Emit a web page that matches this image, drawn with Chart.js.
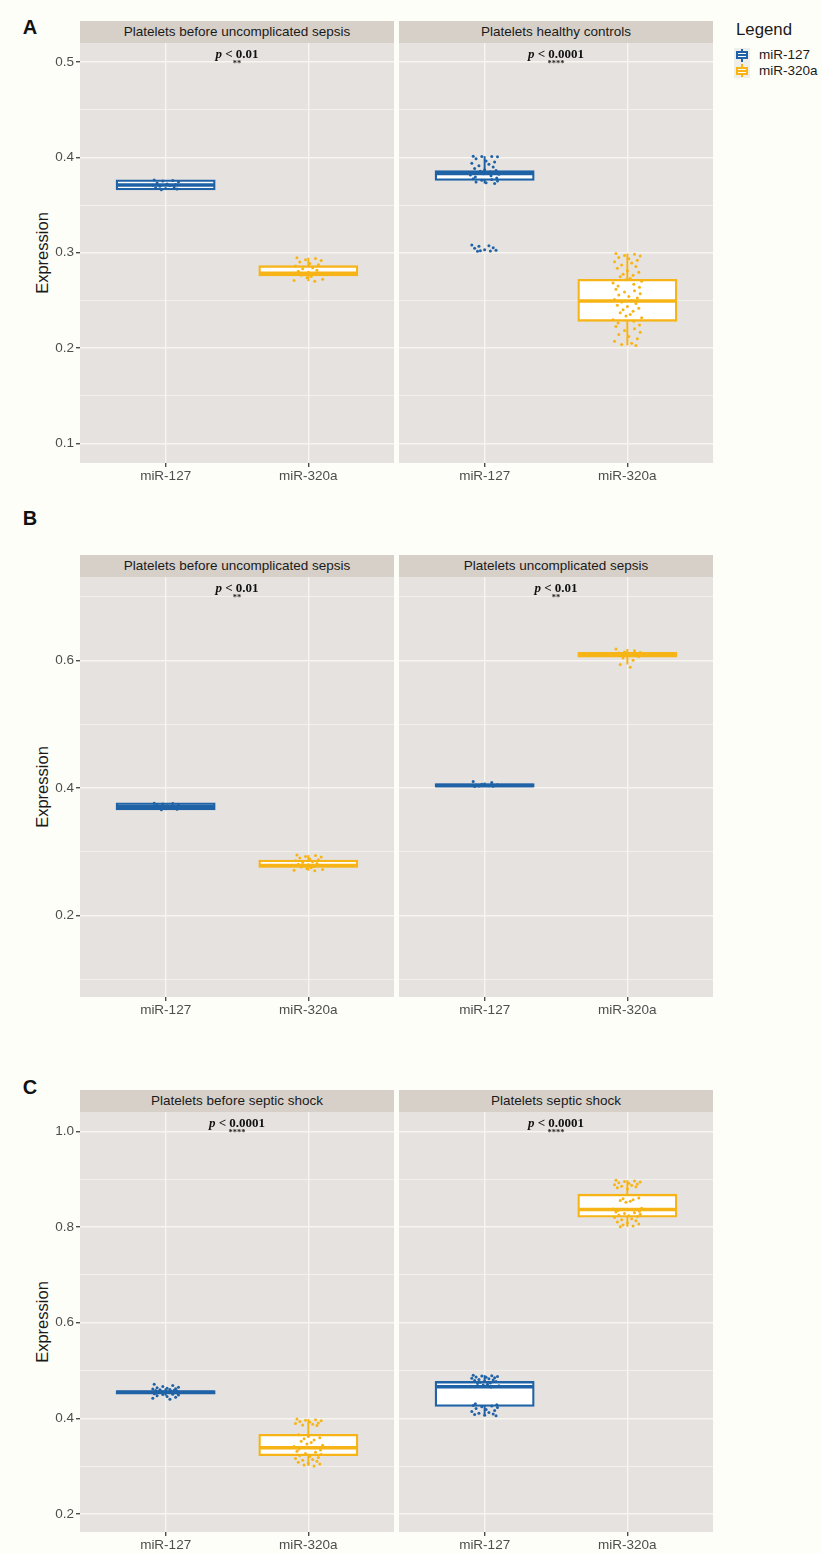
<!DOCTYPE html>
<html>
<head>
<meta charset="utf-8">
<script src="https://cdn.jsdelivr.net/npm/chart.js@4.4.0/dist/chart.umd.min.js"></script>
<style>
body { margin: 0; background: #fefef9; font-family: "Liberation Sans", Arial, sans-serif; }
#fig { position: relative; width: 822px; height: 1553px; overflow: hidden; }
.strip { position: absolute; height: 22px; width: 314px; background: #d6d0c9; color: #1a1a1a;
  font-size: 13.5px; line-height: 22px; text-align: center; white-space: nowrap; }
.pval { position: absolute; z-index: 2; font-family: "Liberation Serif", "Times New Roman", serif; font-weight: bold;
  font-size: 13px; line-height: 1; transform: translate(-50%, -50%); white-space: nowrap; color: #111; }
.stars { position: absolute; z-index: 2; font-family: "Liberation Serif", serif; font-weight: bold; font-size: 8.5px;
  line-height: 1; transform: translate(-50%, -50%); color: #222; }
.letter { position: absolute; font-weight: bold; font-size: 20px; line-height: 1; transform: translate(-50%, -50%); color: #111; }
.ylab { position: absolute; font-size: 16.5px; line-height: 1; color: #1a1a1a; white-space: nowrap;
  transform: translate(-50%, -50%) rotate(-90deg); }
.lgtitle { position: absolute; font-size: 16.8px; line-height: 1; color: #1a1a1a; transform: translateY(-50%); }
.lgtext { position: absolute; font-size: 13.5px; line-height: 1; color: #1a1a1a; transform: translateY(-50%); }
.key { position: absolute; width: 16px; height: 15px; background: #f0eeeb; }
.key div { position: absolute; }
canvas { position: absolute; z-index: 1; }
</style>
</head>
<body>
<div id="fig"></div>
<script>
// categories and colours
const categories = ['miR-127', 'miR-320a'];
const seriesColors = ['#1f62a6', '#f7b416'];

// facet strips and annotations, one row per figure part
const rowLetters = ['A', 'B', 'C'];
const facetTitles = [
  ['Platelets before uncomplicated sepsis', 'Platelets healthy controls'],
  ['Platelets before uncomplicated sepsis', 'Platelets uncomplicated sepsis'],
  ['Platelets before septic shock', 'Platelets septic shock']
];
const pLabels = [['< 0.01', '< 0.0001'], ['< 0.01', '< 0.01'], ['< 0.0001', '< 0.0001']];
const starLabels = [['**', '****'], ['**', '**'], ['****', '****']];

// y axes
const yRangeA = [0.0796, 0.5199];
const majorTicksA = [0.1, 0.2, 0.3, 0.4, 0.5];
const minorTicksA = [0.15, 0.25, 0.35, 0.45];
const yRangeB = [0.0722, 0.7310];
const majorTicksB = [0.2, 0.4, 0.6];
const minorTicksB = [0.1, 0.3, 0.5, 0.7];
const yRangeC = [0.1625, 1.0402];
const majorTicksC = [0.2, 0.4, 0.6, 0.8, 1.0];
const minorTicksC = [0.3, 0.5, 0.7, 0.9];

// box stats: [lower whisker, Q1, median, Q3, upper whisker]
const beforeUncomp127Box = [0.3661, 0.3668, 0.3710, 0.3756, 0.3762];
const beforeUncomp320Box = [0.2702, 0.2766, 0.2785, 0.2856, 0.2948];
const healthy127Box = [0.3727, 0.3766, 0.3830, 0.3852, 0.4012];
const healthy320Box = [0.2029, 0.2290, 0.2493, 0.2714, 0.2991];
const uncomp127Box = [0.4022, 0.4025, 0.4040, 0.4056, 0.4086];
const uncomp320Box = [0.5938, 0.6064, 0.6092, 0.6117, 0.6181];
const beforeShock127Box = [0.4472, 0.4522, 0.4543, 0.4564, 0.4627];
const beforeShock320Box = [0.3006, 0.3237, 0.3386, 0.3648, 0.3984];
const shock127Box = [0.4052, 0.4267, 0.4660, 0.4754, 0.4903];
const shock320Box = [0.8004, 0.8222, 0.8364, 0.8667, 0.8978];

// individual samples (jittered points)
const beforeUncomp127Pts = [0.3762, 0.3758, 0.3751, 0.3743, 0.3731, 0.3722, 0.3715, 0.3709, 0.3704, 0.3698,
  0.3689, 0.3681, 0.3674, 0.3668, 0.3661];
const beforeUncomp320Pts = [0.2948, 0.2941, 0.2926, 0.2918, 0.2903, 0.2887, 0.2874, 0.2861, 0.2842, 0.2833,
  0.2817, 0.2806, 0.2795, 0.2789, 0.2781, 0.2772, 0.2763, 0.2751, 0.2738, 0.2722, 0.2709, 0.2702];
const healthy127Pts = [0.4012, 0.4010, 0.4008, 0.4006, 0.3985, 0.3962, 0.3951, 0.3938, 0.3927, 0.3912,
  0.3898, 0.3884, 0.3871, 0.3862, 0.3855, 0.3848, 0.3841, 0.3836, 0.3829, 0.3822, 0.3816, 0.3807, 0.3795,
  0.3784, 0.3776, 0.3768, 0.3761, 0.3752, 0.3743, 0.3734, 0.3727, 0.3081, 0.3074, 0.3068, 0.3052, 0.3046,
  0.3031, 0.3027, 0.3022, 0.3019, 0.3016];
const healthy320Pts = [0.2991, 0.2984, 0.2972, 0.2965, 0.2951, 0.2938, 0.2922, 0.2906, 0.2893, 0.2871,
  0.2855, 0.2837, 0.2812, 0.2796, 0.2774, 0.2763, 0.2748, 0.2731, 0.2716, 0.2702, 0.2684, 0.2669, 0.2652,
  0.2638, 0.2617, 0.2603, 0.2588, 0.2571, 0.2556, 0.2542, 0.2527, 0.2509, 0.2496, 0.2483, 0.2469, 0.2451,
  0.2437, 0.2418, 0.2402, 0.2386, 0.2371, 0.2353, 0.2336, 0.2318, 0.2297, 0.2281, 0.2263, 0.2244, 0.2226,
  0.2203, 0.2184, 0.2167, 0.2142, 0.2121, 0.2098, 0.2073, 0.2052, 0.2037, 0.2029];
const uncomp127Pts = [0.4102, 0.4086, 0.4061, 0.4053, 0.4047, 0.4044, 0.4041, 0.4038, 0.4035, 0.4031, 0.4027, 0.4022];
const uncomp320Pts = [0.6181, 0.6153, 0.6132, 0.6124, 0.6117, 0.6111, 0.6106, 0.6102, 0.6098, 0.6094,
  0.6089, 0.6083, 0.6076, 0.6062, 0.6041, 0.6005, 0.5938, 0.5893];
const beforeShock127Pts = [0.4712, 0.4688, 0.4667, 0.4651, 0.4638, 0.4627, 0.4619, 0.4611, 0.4603, 0.4597,
  0.4589, 0.4582, 0.4576, 0.4571, 0.4566, 0.4561, 0.4556, 0.4552, 0.4547, 0.4543, 0.4538, 0.4533, 0.4527,
  0.4521, 0.4514, 0.4506, 0.4497, 0.4486, 0.4472, 0.4458, 0.4441, 0.4418, 0.4401];
const beforeShock320Pts = [0.3984, 0.3971, 0.3962, 0.3948, 0.3936, 0.3922, 0.3905, 0.3893, 0.3878, 0.3861,
  0.3849, 0.3655, 0.3621, 0.3597, 0.3572, 0.3548, 0.3521, 0.3493, 0.3462, 0.3437, 0.3412, 0.3388, 0.3361,
  0.3337, 0.3314, 0.3291, 0.3268, 0.3247, 0.3226, 0.3204, 0.3182, 0.3163, 0.3141, 0.3122, 0.3101, 0.3082,
  0.3064, 0.3046, 0.3027, 0.3006];
const shock127Pts = [0.4903, 0.4891, 0.4884, 0.4872, 0.4866, 0.4857, 0.4849, 0.4838, 0.4826, 0.4813,
  0.4801, 0.4792, 0.4781, 0.4768, 0.4754, 0.4741, 0.4726, 0.4712, 0.4697, 0.4683, 0.4669, 0.4653, 0.4303,
  0.4286, 0.4271, 0.4258, 0.4241, 0.4227, 0.4208, 0.4183, 0.4162, 0.4141, 0.4123, 0.4106, 0.4092, 0.4078,
  0.4063, 0.4052];
const shock320Pts = [0.8978, 0.8962, 0.8951, 0.8937, 0.8924, 0.8912, 0.8896, 0.8883, 0.8869, 0.8852,
  0.8838, 0.8817, 0.8792, 0.8603, 0.8587, 0.8569, 0.8551, 0.8536, 0.8518, 0.8392, 0.8374, 0.8356, 0.8341,
  0.8327, 0.8312, 0.8296, 0.8281, 0.8263, 0.8247, 0.8232, 0.8218, 0.8197, 0.8172, 0.8151, 0.8128, 0.8103,
  0.8082, 0.8061, 0.8043, 0.8021, 0.8004];

// horizontal jitter of the points, in category units
const jitterX = [-0.08, 0.05, -0.02, 0.09, -0.06, 0.01, 0.07, -0.09, 0.03, -0.04,
  0.06, -0.07, 0.0, 0.08, -0.03, 0.04, -0.05, 0.02, -0.01, 0.1, -0.1, 0.045, -0.065, 0.085];

const rows = [
  { top: 43, letterY: 27, yRange: yRangeA, major: majorTicksA, minor: minorTicksA,
    facets: [[beforeUncomp127Box, beforeUncomp127Pts, beforeUncomp320Box, beforeUncomp320Pts],
             [healthy127Box, healthy127Pts, healthy320Box, healthy320Pts]] },
  { top: 577, letterY: 518, yRange: yRangeB, major: majorTicksB, minor: minorTicksB,
    facets: [[beforeUncomp127Box, beforeUncomp127Pts, beforeUncomp320Box, beforeUncomp320Pts],
             [uncomp127Box, uncomp127Pts, uncomp320Box, uncomp320Pts]] },
  { top: 1112, letterY: 1087, yRange: yRangeC, major: majorTicksC, minor: minorTicksC,
    facets: [[beforeShock127Box, beforeShock127Pts, beforeShock320Box, beforeShock320Pts],
             [shock127Box, shock127Pts, shock320Box, shock320Pts]] }
];

const PANEL_W = 314, PANEL_H = 420, AXIS_W = 80, XAXIS_H = 30;
const panelLeft = [80, 399];
const gridColor = '#f8f5f0';
const boxPx = 0.7 / 2.2 * PANEL_W - 2.3;

const fig = document.getElementById('fig');
function addDiv(cls, html, style) {
  const d = document.createElement('div');
  d.className = cls;
  d.innerHTML = html;
  Object.assign(d.style, style);
  fig.appendChild(d);
  return d;
}

const panelBg = {
  id: 'panelBg',
  beforeDraw(chart) {
    const { ctx, chartArea: a } = chart;
    ctx.save();
    ctx.fillStyle = '#e6e2df';
    ctx.fillRect(a.left, a.top, a.right - a.left, a.bottom - a.top);
    ctx.restore();
  }
};

function buildDatasets(facet) {
  const ds = [];
  for (let s = 0; s < 2; s++) {
    const box = facet[s * 2], pts = facet[s * 2 + 1];
    const x = s + 1, color = seriesColors[s];
    ds.push({ type: 'bar', data: [{ x: x, y: [box[0], box[4]] }], backgroundColor: color,
      borderWidth: 0, barThickness: 2, grouped: false, inflateAmount: 0, order: 3 });
    ds.push({ type: 'bar', data: [{ x: x, y: [box[1], box[3]] }], backgroundColor: '#ffffff',
      borderColor: color, borderWidth: 2.3, borderSkipped: false, barThickness: boxPx,
      grouped: false, inflateAmount: 1.15, order: 2 });
    ds.push({ type: 'scatter', data: [{ x: x, y: box[2] }], pointStyle: 'line',
      pointRadius: boxPx / 2, pointBorderColor: color, pointBorderWidth: 3.5, order: 1 });
    ds.push({ type: 'scatter', data: pts.map((v, i) => ({ x: x + jitterX[i % jitterX.length], y: v })),
      pointRadius: 1.5, pointBackgroundColor: color, pointBorderWidth: 0, order: 0 });
  }
  return ds;
}

rows.forEach((row, r) => {
  const allTicks = row.major.concat(row.minor).sort((a, b) => a - b);
  const isMajor = v => row.major.some(m => Math.abs(m - v) < 1e-9);

  addDiv('letter', rowLetters[r], { left: '30px', top: row.letterY + 'px' });
  addDiv('ylab', 'Expression', { left: '42px', top: (row.top + PANEL_H / 2) + 'px' });

  row.facets.forEach((facet, f) => {
    const isLeft = f === 0;
    const px = panelLeft[f];
    addDiv('strip', facetTitles[r][f], { left: px + 'px', top: (row.top - 22) + 'px' });
    addDiv('pval', '<i>p</i> ' + pLabels[r][f].replace('<', '&lt;'),
      { left: (px + PANEL_W / 2) + 'px', top: (row.top + 10) + 'px' });
    addDiv('stars', starLabels[r][f], { left: (px + PANEL_W / 2) + 'px', top: (row.top + 20) + 'px' });

    const cv = document.createElement('canvas');
    const cw = isLeft ? AXIS_W + PANEL_W : PANEL_W;
    cv.width = cw;
    cv.height = PANEL_H + XAXIS_H;
    cv.style.left = (isLeft ? 0 : px) + 'px';
    cv.style.top = row.top + 'px';
    fig.appendChild(cv);

    new Chart(cv, {
      type: 'bar',
      data: { datasets: buildDatasets(facet) },
      options: {
        responsive: false,
        animation: false,
        events: [],
        layout: { padding: 0, autoPadding: false },
        plugins: { legend: { display: false }, tooltip: { enabled: false } },
        scales: {
          x: {
            type: 'linear', min: 0.4, max: 2.6, offset: false,
            afterBuildTicks: s => { s.ticks = [{ value: 1 }, { value: 2 }]; },
            afterFit: s => { s.height = XAXIS_H; s.paddingLeft = 0; s.paddingRight = 0; },
            ticks: { autoSkip: false, maxRotation: 0, padding: 1, color: '#4d4d4d',
              font: { size: 13.5, family: '"Liberation Sans", Arial, sans-serif' },
              callback: v => categories[Math.round(v) - 1] },
            grid: { offset: false, color: gridColor, lineWidth: 1.4, tickLength: 4, tickColor: '#4d4d4d' },
            border: { display: false }
          },
          y: {
            type: 'linear', min: row.yRange[0], max: row.yRange[1],
            afterBuildTicks: s => { s.ticks = allTicks.map(v => ({ value: v })); },
            afterFit: s => { s.width = isLeft ? AXIS_W : 0; s.paddingTop = 0; s.paddingBottom = 0; },
            ticks: { display: isLeft, autoSkip: false, padding: 2, color: '#4d4d4d',
              font: { size: 13.5, family: '"Liberation Sans", Arial, sans-serif' },
              callback: v => isMajor(v) ? v.toFixed(1) : '' },
            grid: {
              color: gridColor,
              lineWidth: c => (c.tick && isMajor(c.tick.value)) ? 1.4 : 0.7,
              drawTicks: isLeft, tickLength: 4,
              tickColor: c => (c.tick && isMajor(c.tick.value)) ? '#4d4d4d' : 'rgba(0,0,0,0)'
            },
            border: { display: false }
          }
        }
      },
      plugins: [panelBg]
    });
  });
});

// legend
addDiv('lgtitle', 'Legend', { left: '736px', top: '30px' });
[55, 70.5].forEach((cy, s) => {
  const k = addDiv('key', '', { left: '734px', top: (cy - 7.5) + 'px' });
  const c = seriesColors[s];
  k.innerHTML =
    '<div style="left:7px;top:1px;width:2px;height:13px;background:' + c + '"></div>' +
    '<div style="left:2px;top:3.5px;width:8px;height:4px;border:2px solid ' + c + ';background:#fff"></div>' +
    '<div style="left:2px;top:6.5px;width:12px;height:2px;background:' + c + '"></div>';
  addDiv('lgtext', categories[s], { left: '759px', top: cy + 'px' });
});
</script>
</body>
</html>
